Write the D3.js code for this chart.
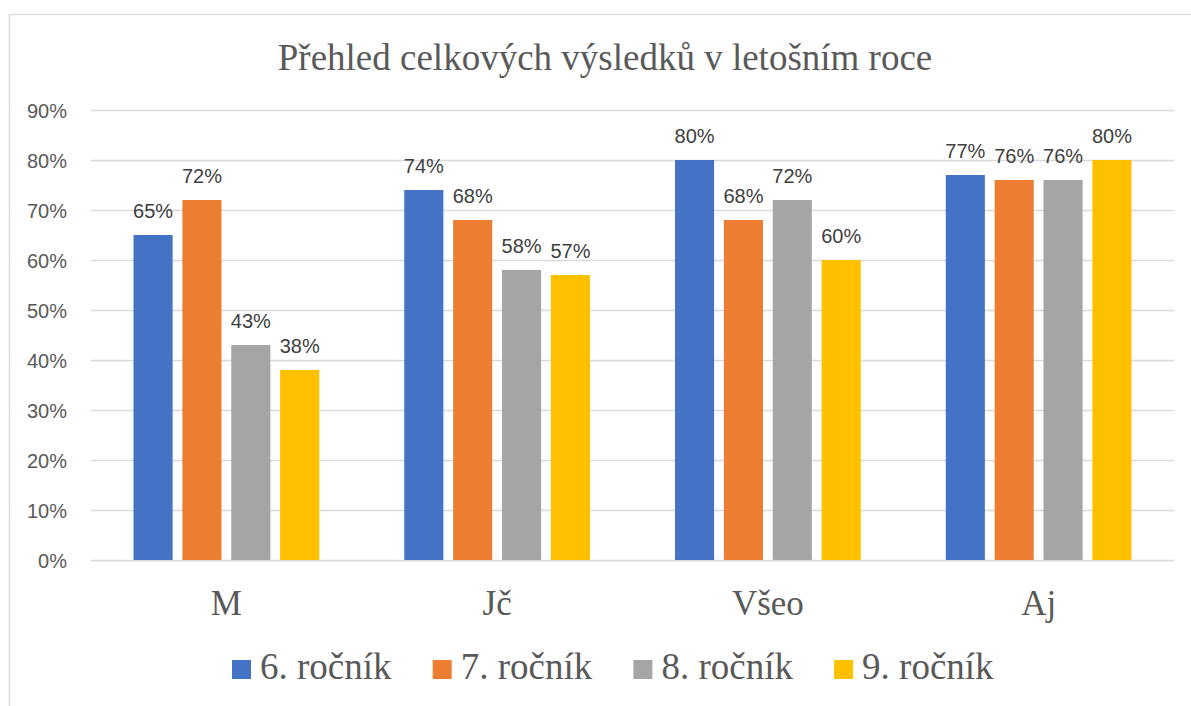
<!DOCTYPE html>
<html>
<head>
<meta charset="utf-8">
<script src="https://cdn.jsdelivr.net/npm/d3@7"></script>
<style>
  body { margin: 0; background: #fff; }
</style>
</head>
<body>
<svg id="chart" width="1191" height="706"></svg>
<script>
//^^^^^^^^^^^^^^^^^^^^^^^^^^^^^^^^^^^^^^^^^^^^^^^^^^^^^^^^^^^^^^^^^^^^^^^^^^^^^^
// Data
//------------------------------------------------------------------------------
var title = "Přehled celkových výsledků v letošním roce"
var categories = ["M", "Jč", "Všeo", "Aj"]
var series = ["6. ročník", "7. ročník", "8. ročník", "9. ročník"]
var grade6 = [0.65, 0.74, 0.80, 0.77]
var grade7 = [0.72, 0.68, 0.68, 0.76]
var grade8 = [0.43, 0.58, 0.72, 0.76]
var grade9 = [0.38, 0.57, 0.60, 0.80]
var yTicks = [0, 0.1, 0.2, 0.3, 0.4, 0.5, 0.6, 0.7, 0.8, 0.9]
var colors = ["#4472C4", "#ED7D31", "#A5A5A5", "#FFC000"]

var values = [grade6, grade7, grade8, grade9]
var rows = []
categories.forEach(function(c, i){
  series.forEach(function(s, j){
    rows.push({cat: c, series: s, value: values[j][i], color: colors[j]})
  })
})

//^^^^^^^^^^^^^^^^^^^^^^^^^^^^^^^^^^^^^^^^^^^^^^^^^^^^^^^^^^^^^^^^^^^^^^^^^^^^^^
// Setup
//------------------------------------------------------------------------------
var svg = d3.select("#chart"),
    sans = "'Liberation Sans', Arial, sans-serif",
    serif = "'Liberation Serif', 'Times New Roman', serif",
    plot = {left: 91, right: 1174, top: 110, bottom: 560}

svg.append("rect")
  .attr("width", 1191).attr("height", 706)
  .attr("fill", "#fff")

svg.append("rect")
  .attr("x", 9.5).attr("y", 14.5)
  .attr("width", 1220).attr("height", 720)
  .attr("fill", "none")
  .attr("stroke", "#D9D9D9")
  .attr("stroke-width", 1.3)

var x = d3.scaleBand()
  .domain(categories)
  .range([plot.left, plot.right])

var x1 = d3.scaleBand()
  .domain(series)
  .range([0, x.bandwidth()])
  .paddingInner(0.2)
  .paddingOuter(0.87)

var y = d3.scaleLinear()
  .domain([0, 0.9])
  .range([plot.bottom, plot.top])

//^^^^^^^^^^^^^^^^^^^^^^^^^^^^^^^^^^^^^^^^^^^^^^^^^^^^^^^^^^^^^^^^^^^^^^^^^^^^^^
// Title
//------------------------------------------------------------------------------
svg.append("text")
  .attr("x", 605).attr("y", 70)
  .attr("text-anchor", "middle")
  .attr("font-family", serif)
  .attr("font-size", 37)
  .attr("fill", "#595959")
  .text(title)

//^^^^^^^^^^^^^^^^^^^^^^^^^^^^^^^^^^^^^^^^^^^^^^^^^^^^^^^^^^^^^^^^^^^^^^^^^^^^^^
// Y axis and gridlines
//------------------------------------------------------------------------------
var yAxis = svg.append("g")
  .attr("transform", "translate(" + plot.left + ",0)")
  .call(d3.axisLeft(y)
    .tickValues(yTicks)
    .tickSize(-(plot.right - plot.left))
    .tickPadding(24)
    .tickFormat(d3.format(".0%")))

yAxis.select(".domain").remove()
yAxis.selectAll(".tick line")
  .attr("stroke", "#D9D9D9")
  .attr("stroke-width", 1.3)
yAxis.selectAll(".tick text")
  .attr("font-family", sans)
  .attr("font-size", 20)
  .attr("fill", "#595959")
  .attr("dy", "0.35em")

//^^^^^^^^^^^^^^^^^^^^^^^^^^^^^^^^^^^^^^^^^^^^^^^^^^^^^^^^^^^^^^^^^^^^^^^^^^^^^^
// Bars and value labels
//------------------------------------------------------------------------------
var groups = svg.selectAll("g.group")
  .data(categories)
  .enter().append("g")
  .attr("class", "group")
  .attr("transform", function(c){ return "translate(" + x(c) + ",0)" })

groups.selectAll("rect")
  .data(function(c){ return rows.filter(function(r){ return r.cat == c }) })
  .enter().append("rect")
  .attr("x", function(d){ return x1(d.series) })
  .attr("y", function(d){ return y(d.value) })
  .attr("width", x1.bandwidth())
  .attr("height", function(d){ return y(0) - y(d.value) })
  .attr("fill", function(d){ return d.color })

groups.selectAll("text.value")
  .data(function(c){ return rows.filter(function(r){ return r.cat == c }) })
  .enter().append("text")
  .attr("class", "value")
  .attr("x", function(d){ return x1(d.series) + x1.bandwidth()/2 })
  .attr("y", function(d){ return y(d.value) - 17 })
  .attr("text-anchor", "middle")
  .attr("font-family", sans)
  .attr("font-size", 20)
  .attr("fill", "#404040")
  .text(function(d){ return d3.format(".0%")(d.value) })

//^^^^^^^^^^^^^^^^^^^^^^^^^^^^^^^^^^^^^^^^^^^^^^^^^^^^^^^^^^^^^^^^^^^^^^^^^^^^^^
// Category labels
//------------------------------------------------------------------------------
svg.selectAll("text.cat")
  .data(categories)
  .enter().append("text")
  .attr("class", "cat")
  .attr("x", function(c){ return x(c) + x.bandwidth()/2 })
  .attr("y", 615)
  .attr("text-anchor", "middle")
  .attr("font-family", serif)
  .attr("font-size", 35)
  .attr("fill", "#595959")
  .text(function(c){ return c })

//^^^^^^^^^^^^^^^^^^^^^^^^^^^^^^^^^^^^^^^^^^^^^^^^^^^^^^^^^^^^^^^^^^^^^^^^^^^^^^
// Legend
//------------------------------------------------------------------------------
var legend = svg.selectAll("g.legend")
  .data(series)
  .enter().append("g")
  .attr("class", "legend")
  .attr("transform", function(s, i){ return "translate(" + (232 + i*200.7) + ",660)" })

legend.append("rect")
  .attr("width", 19).attr("height", 19)
  .attr("fill", function(s, i){ return colors[i] })

legend.append("text")
  .attr("x", 28).attr("y", 19)
  .attr("font-family", serif)
  .attr("font-size", 37)
  .attr("fill", "#595959")
  .text(function(s){ return s })
</script>
</body>
</html>
